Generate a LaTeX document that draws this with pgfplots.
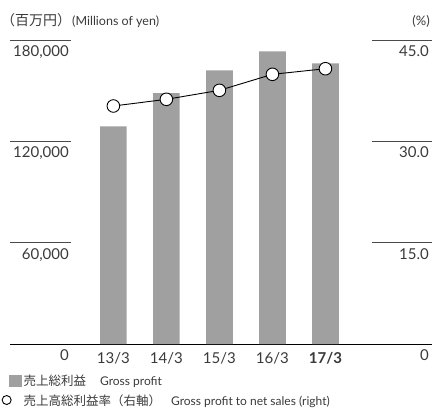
\documentclass[border=0pt]{standalone}
\usepackage{pgfplots}
\pgfplotsset{compat=1.18}
\usepackage{fontspec}
\setmainfont{Lato}
\newfontfamily\jp{Noto Sans CJK JP}
\definecolor{barcol}{HTML}{A0A0A0}
\definecolor{txtcol}{HTML}{3A3A3A}
\definecolor{gridcol}{HTML}{4A4A4A}

\begin{document}
\begin{tikzpicture}
\useasboundingbox (0pt,0pt) rectangle (432pt,416pt);

% gross profit (left axis)
\begin{axis}[
    at={(10pt,72pt)}, anchor=south west,
    scale only axis, width=422pt, height=304pt,
    xmin=-1.95, xmax=6.01, ymin=0, ymax=180000,
    clip=false,
    axis x line*=bottom, axis y line*=left,
    y axis line style={draw=none},
    x axis line style={-, draw=black, line width=0.9pt},
    major tick length=0pt,
    xtick={0,1,2,3,4},
    xticklabels={13/3,14/3,15/3,16/3,\textbf{17/3}},
    ytick={0,60000,120000,180000},
    yticklabels={0,{60,000},{120,000},{180,000}},
    scaled y ticks=false,
    tick label style={font=\fontsize{15}{15}\selectfont, text=txtcol},
    yticklabel style={anchor=north east, inner sep=0pt, xshift=59pt, yshift=-5.5pt},
    xticklabel style={anchor=north, inner sep=0pt, yshift=-8.5pt},
]
\addplot[ybar, bar width=26.7pt, bar shift=0pt, fill=barcol, draw=none]
    coordinates {(0,128900) (1,148550) (2,161970) (3,173200) (4,166100)};
\draw[gridcol, line width=0.9pt] (rel axis cs:0,1) -- (rel axis cs:0.1445,1);
\draw[gridcol, line width=0.9pt] (rel axis cs:0,0.6667) -- (rel axis cs:0.1445,0.6667);
\draw[gridcol, line width=0.9pt] (rel axis cs:0,0.3333) -- (rel axis cs:0.1445,0.3333);
\draw[gridcol, line width=0.9pt] (rel axis cs:0.8578,1) -- (rel axis cs:1,1);
\draw[gridcol, line width=0.9pt] (rel axis cs:0.8578,0.6667) -- (rel axis cs:1,0.6667);
\draw[gridcol, line width=0.9pt] (rel axis cs:0.8578,0.3333) -- (rel axis cs:1,0.3333);
\end{axis}

% ratio (right axis)
\begin{axis}[
    at={(10pt,72pt)}, anchor=south west,
    scale only axis, width=422pt, height=304pt,
    xmin=-1.95, xmax=6.01, ymin=0, ymax=45,
    clip=false,
    axis x line=none, axis y line*=right,
    y axis line style={draw=none},
    major tick length=0pt,
    ytick={0,15,30,45},
    yticklabels={0,15.0,30.0,45.0},
    tick label style={font=\fontsize{15}{15}\selectfont, text=txtcol},
    yticklabel style={anchor=north east, inner sep=0pt, xshift=-3pt, yshift=-5.5pt},
    legend style={at={(0,-0.102)}, anchor=north west, xshift=-9.5pt,
        draw=none, fill=none, inner sep=0pt, row sep=7pt,
        nodes={inner sep=0pt, text=txtcol, font=\fontsize{12}{12}\selectfont},
        cells={anchor=west}},
    legend cell align=left,
]
\addlegendimage{legend image code/.code={
    \path (-9pt,0pt) (11pt,0pt);
    \fill[barcol] (-1pt,-5pt) rectangle (11pt,6pt);}}
\addlegendentry{\hspace{2pt}{\jp\fontsize{12.5}{12.5}\selectfont 売上総利益}\hspace{14pt}Gross profit}
\addplot[black, line width=0.9pt, mark=*, mark size=6.3pt,
    mark options={fill=white, draw=black, line width=0.9pt},
    legend image code/.code={
    \path (-9pt,0pt) (11pt,0pt);
    \draw[black, line width=0.9pt, fill=white] (-3.5pt,0.5pt) circle (4.5pt);}]
    coordinates {(0,35.23) (1,36.22) (2,37.55) (3,39.92) (4,40.75)};
\addlegendentry{\hspace{2pt}{\jp\fontsize{12.5}{12.5}\selectfont 売上高総利益率（右軸）}\hspace{10pt}Gross profit to net sales (right)}
\end{axis}

\node[anchor=west, text=txtcol, font=\fontsize{12.5}{12.5}\selectfont, inner sep=0pt]
    at (1pt,395pt) {{\jp\fontsize{14}{14}\selectfont （百万円）}\hspace{1pt}(Millions of yen)};
\node[anchor=east, text=txtcol, font=\fontsize{13}{13}\selectfont, inner sep=0pt]
    at (430pt,395pt) {(\%)};
\end{tikzpicture}
\end{document}
